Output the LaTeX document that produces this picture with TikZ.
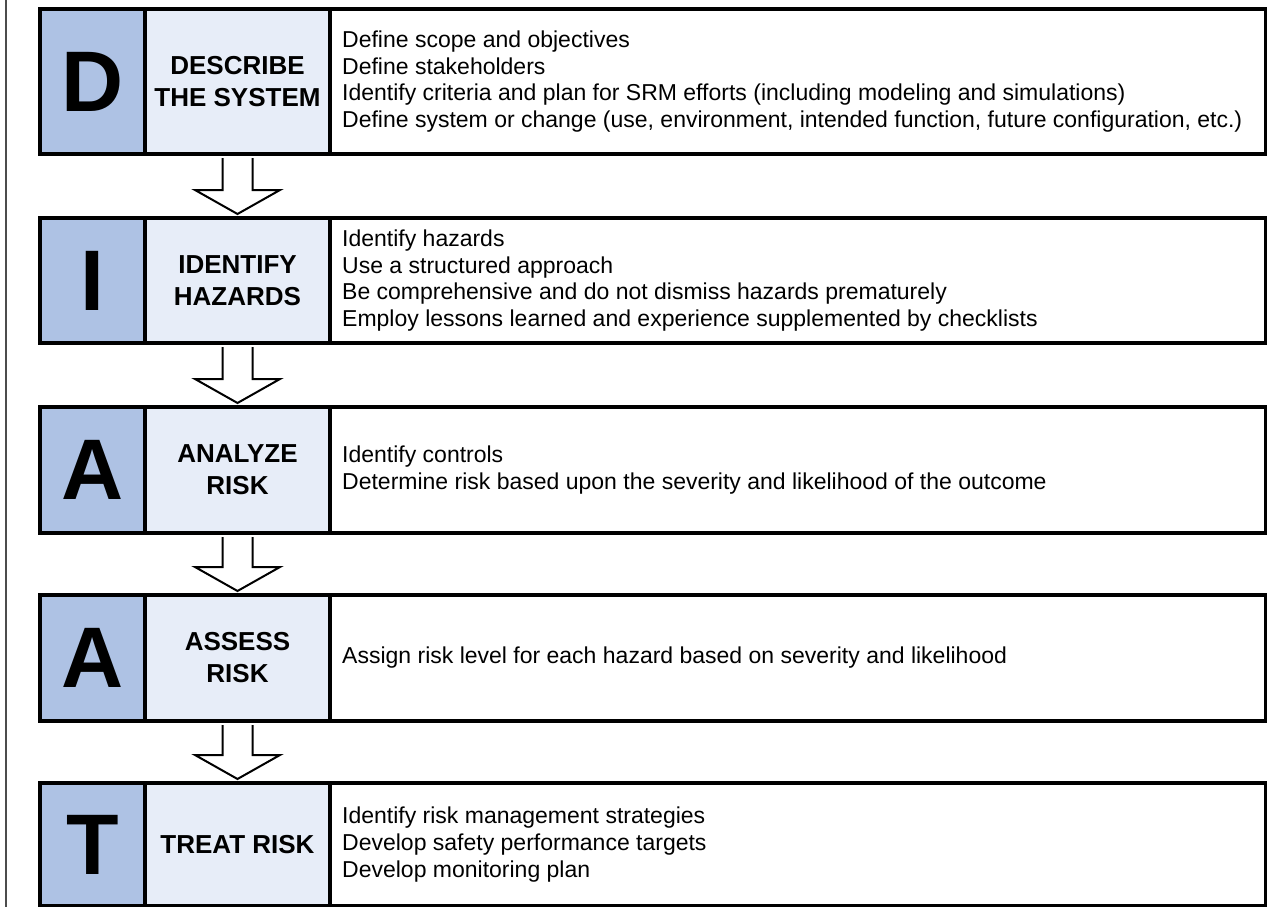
\documentclass[tikz,border=0pt]{standalone}
\usepackage{fontspec}
\setmainfont{Liberation Sans}
\usetikzlibrary{calc}

\definecolor{letterblue}{RGB}{174,194,228}
\definecolor{nameblue}{RGB}{231,237,248}

\begin{document}
\begin{tikzpicture}[x=1pt, y=-1pt,
    cell/.style={draw=black, line width=4pt, inner sep=0pt, anchor=north west},
    lettercell/.style={cell, fill=letterblue, minimum width=105pt,
        font=\fontsize{86}{86}\selectfont\bfseries},
    namecell/.style={cell, fill=nameblue, minimum width=185pt, align=center,
        font=\fontsize{26}{32}\selectfont\bfseries},
    textcell/.style={cell, fill=white, minimum width=936pt},
    steptext/.style={anchor=west, align=left, inner sep=0pt,
        font=\fontsize{23}{26.7}\selectfont},
    downarrow/.style={draw=black, line width=2pt, fill=white, line join=miter}]

    \useasboundingbox (0,0) rectangle (1267,907);

    % Linea lateral
    \draw[gray!60!black, line width=1.5pt] (6,0) -- (6,907);

    % D: describir el sistema
    \node[lettercell, minimum height=145pt] (let1) at (38,7) {D};
    \node[namecell, minimum height=145pt] (name1) at (143,7) {DESCRIBE\\THE SYSTEM};
    \node[textcell, minimum height=145pt] (txt1) at (328,7) {};
    \node[steptext] (list1) at ([xshift=14pt]txt1.west)
        {Define scope and objectives\\
         Define stakeholders\\
         Identify criteria and plan for SRM efforts (including modeling and simulations)\\
         Define system or change (use, environment, intended function, future configuration, etc.)};

    % I: identificar peligros
    \node[lettercell, minimum height=125pt] (let2) at (38,216) {I};
    \node[namecell, minimum height=125pt] (name2) at (143,216) {IDENTIFY\\HAZARDS};
    \node[textcell, minimum height=125pt] (txt2) at (328,216) {};
    \node[steptext] (list2) at ([xshift=14pt]txt2.west)
        {Identify hazards\\
         Use a structured approach\\
         Be comprehensive and do not dismiss hazards prematurely\\
         Employ lessons learned and experience supplemented by checklists};

    % A: analizar el riesgo
    \node[lettercell, minimum height=126pt] (let3) at (38,405) {A};
    \node[namecell, minimum height=126pt] (name3) at (143,405) {ANALYZE\\RISK};
    \node[textcell, minimum height=126pt] (txt3) at (328,405) {};
    \node[steptext] (list3) at ([xshift=14pt]txt3.west)
        {Identify controls\\
         Determine risk based upon the severity and likelihood of the outcome};

    % A: evaluar el riesgo
    \node[lettercell, minimum height=126pt] (let4) at (38,593) {A};
    \node[namecell, minimum height=126pt] (name4) at (143,593) {ASSESS\\RISK};
    \node[textcell, minimum height=126pt] (txt4) at (328,593) {};
    \node[steptext] (list4) at ([xshift=14pt]txt4.west)
        {Assign risk level for each hazard based on severity and likelihood};

    % T: tratar el riesgo
    \node[lettercell, minimum height=123pt] (let5) at (38,781) {T};
    \node[namecell, minimum height=123pt] (name5) at (143,781) {TREAT RISK};
    \node[textcell, minimum height=123pt] (txt5) at (328,781) {};
    \node[steptext] (list5) at ([xshift=14pt]txt5.west)
        {Identify risk management strategies\\
         Develop safety performance targets\\
         Develop monitoring plan};

    % Flechas entre pasos
    \foreach \a/\b in {1/2,2/3,3/4,4/5}
        \draw[downarrow] ($(name\a.south)+(-15,2)$) -- ($(name\b.north)+(-15,-26)$)
            -- ++(-27.5,0) -- ($(name\b.north)+(0,-2)$) -- ($(name\b.north)+(42.5,-26)$)
            -- ++(-27.5,0) -- ($(name\a.south)+(15,2)$);
\end{tikzpicture}
\end{document}
